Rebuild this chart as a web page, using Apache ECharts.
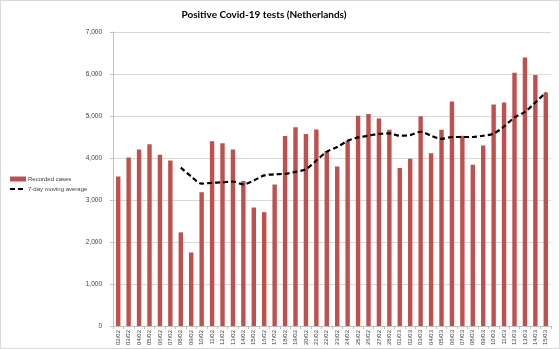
<!DOCTYPE html>
<html>
<head>
<meta charset="utf-8">
<script src="https://cdn.jsdelivr.net/npm/echarts@6/dist/echarts.min.js"></script>
<style>
html,body{margin:0;padding:0;background:#fff;}
#c{width:558px;height:347px;border:1px solid #d9d9d9;}
</style>
</head>
<body>
<div id="c"></div>
<script>
const categories = ['02/02','03/02','04/02','05/02','06/02','07/02','08/02','09/02','10/02','11/02','12/02','13/02','14/02','15/02','16/02','17/02','18/02','19/02','20/02','21/02','22/02','23/02','24/02','25/02','26/02','27/02','28/02','01/03','02/03','03/03','04/03','05/03','06/03','07/03','08/03','09/03','10/03','11/03','12/03','13/03','14/03','15/03'];
const recordedCases = [3560,4010,4200,4330,4080,3940,2230,1750,3185,4400,4350,4200,3450,2820,2710,3370,4525,4735,4570,4680,4165,3800,4410,5005,5050,4940,4675,3760,3980,4995,4115,4675,5345,4530,3840,4295,5275,5320,6030,6390,5975,5560];
const movingAverage = [null,null,null,null,null,null,3770,3560,3390,3410,3420,3440,3370,3465,3585,3610,3625,3670,3735,3940,4150,4260,4410,4490,4530,4575,4585,4530,4545,4625,4530,4455,4500,4500,4500,4530,4580,4750,4965,5100,5320,5560];
const yTicks = [0,1000,2000,3000,4000,5000,6000,7000];

const chart = echarts.init(document.getElementById('c'));
chart.setOption({
  animation:false,
  title:{text:'Positive Covid-19 tests (Netherlands)',left:263,top:9,textAlign:'center',padding:0,
    textStyle:{fontFamily:'Lato',fontSize:10,fontWeight:'bold',color:'#000'}},
  grid:{left:112,right:8,top:31,bottom:20,containLabel:false},
  legend:{orient:'vertical',left:8,top:175,padding:0,itemGap:4,itemWidth:16,itemHeight:5,
    textStyle:{fontSize:6,color:'#404040',fontFamily:'Liberation Sans',padding:[0,0,0,-3]},
    data:[{name:'Recorded cases',icon:'rect'},{name:'7-day moving average',itemStyle:{opacity:0}}]},
  xAxis:{type:'category',data:categories,boundaryGap:true,
    axisLine:{lineStyle:{color:'#bfbfbf'}},
    axisTick:{show:true,length:3,lineStyle:{color:'#bfbfbf'}},
    axisLabel:{rotate:90,fontSize:6,color:'#404040',margin:4,interval:0,fontFamily:'Liberation Sans'}},
  yAxis:{type:'value',min:0,max:7000,interval:1000,
    axisLine:{show:true,lineStyle:{color:'#bfbfbf'}},
    axisTick:{show:true,length:3,lineStyle:{color:'#bfbfbf'}},
    splitLine:{lineStyle:{color:'#d9d9d9'}},
    axisLabel:{fontSize:6.5,color:'#404040',margin:11,fontFamily:'Liberation Sans',
      formatter:v=>yTicks.includes(v)?v.toLocaleString('en-US'):''}},
  series:[
    {name:'Recorded cases',type:'bar',data:recordedCases,barWidth:4.4,
      itemStyle:{color:'#c0504d'}},
    {name:'7-day moving average',type:'line',data:movingAverage,smooth:0.3,symbol:'none',
      connectNulls:false,
      lineStyle:{color:'#000',width:2.2,type:[5,3]},itemStyle:{color:'#000'}}
  ]
});
</script>
</body>
</html>
